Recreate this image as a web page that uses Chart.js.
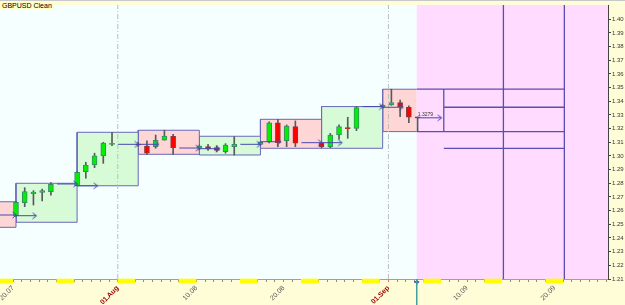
<!DOCTYPE html>
<html>
<head>
<meta charset="utf-8">
<script src="https://cdn.jsdelivr.net/npm/chart.js@4.4.0/dist/chart.umd.min.js"></script>
<style>
  body { margin: 0; background: #fffdd8; }
  #wrap { position: relative; width: 625px; height: 305px; }
  #titulo { position: absolute; left: 0; top: 2px; font: 7px "Liberation Sans", Arial, sans-serif; line-height: 7px; background: #ffffc8; padding: 0 2px; color: #000; }
</style>
</head>
<body>
<div id="wrap">
  <canvas id="chart" width="625" height="305"></canvas>
  <div id="titulo">GBPUSD Clean</div>
</div>
<script>
// dias contados a partir de 20.07 (segunda-feira)
const dias = [0, 1, 2, 3, 4, 7, 8, 9, 10, 11, 14, 15, 16, 17, 18, 21, 22, 23, 24, 25,
  28, 29, 30, 31, 32, 35, 36, 37, 38, 39, 42, 43, 44, 45, 46];
const abertura = [1.2563, 1.2658, 1.2724, 1.2733, 1.2739, 1.2782, 1.2885, 1.2934, 1.3000, 1.3084,
  1.3085, 1.3073, 1.3068, 1.3115, 1.3144, 1.3056, 1.3068, 1.3061, 1.3031, 1.3068,
  1.3085, 1.3104, 1.3243, 1.3112, 1.3214, 1.3093, 1.3068, 1.3153, 1.3205, 1.3202,
  1.3356, 1.3373, 1.3390, 1.3356, 1.3283];
const maxima = [1.2668, 1.2768, 1.2746, 1.2758, 1.2805, 1.2885, 1.2954, 1.3020, 1.3100, 1.3173,
  1.3100, 1.3110, 1.3153, 1.3188, 1.3158, 1.3080, 1.3085, 1.3075, 1.3090, 1.3141,
  1.3105, 1.3250, 1.3268, 1.3227, 1.3256, 1.3100, 1.3165, 1.3227, 1.3283, 1.3361,
  1.3375, 1.3488, 1.3409, 1.3366, 1.3285];
const minima = [1.2558, 1.2629, 1.2641, 1.2671, 1.2714, 1.2780, 1.2837, 1.2914, 1.2946, 1.3075,
  1.3070, 1.3012, 1.3056, 1.3115, 1.3012, 1.3045, 1.3040, 1.3030, 1.3020, 1.3007,
  1.3080, 1.3095, 1.3068, 1.3068, 1.3068, 1.3060, 1.3060, 1.3122, 1.3129, 1.3185,
  1.3350, 1.3370, 1.3287, 1.3243, 1.3178];
const fechamento = [1.2661, 1.2739, 1.2736, 1.2746, 1.2793, 1.2881, 1.2934, 1.3000, 1.3095, 1.3092,
  1.3080, 1.3020, 1.3115, 1.3146, 1.3061, 1.3073, 1.3051, 1.3041, 1.3080, 1.3085,
  1.3100, 1.3243, 1.3097, 1.3219, 1.3093, 1.3068, 1.3153, 1.3214, 1.3200, 1.3353,
  1.3371, 1.3390, 1.3361, 1.3283, 1.3279];

// caixas semanais
const semanaInicio = [-7, 0, 7, 14, 21, 28, 35, 42];
const semanaMax = [1.2665, 1.2800, 1.3173, 1.3188, 1.3144, 1.3268, 1.3361, 1.3488];
const semanaMin = [1.2478, 1.2515, 1.2782, 1.3012, 1.3007, 1.3056, 1.3056, 1.3178];
const semanaAbre = [1.2600, 1.2563, 1.2782, 1.3085, 1.3053, 1.3104, 1.3097, 1.3356];
const semanaFecha = [1.2568, 1.2795, 1.3085, 1.3058, 1.3085, 1.3097, 1.3361, 1.3279];

const agora = 46.24;             // posição do "agora"
const projecaoDias = [56.17, 63.15];
const fimDeSemana = [-2, 5, 12, 19, 26, 33, 40, 47, 54, 61];
const meses = [12, 43];

const tickDias = [0, 12, 21, 31, 43, 52, 62];
const tickTextos = ["20.07", "01.Aug", "10.08", "20.08", "01.Sep", "10.09", "20.09"];
const yTicks = [1.21, 1.22, 1.23, 1.24, 1.25, 1.26, 1.27, 1.28, 1.29, 1.30,
  1.31, 1.32, 1.33, 1.34, 1.35, 1.36, 1.37, 1.38, 1.39, 1.40];

const yMin = 1.21, yMax = 1.4104;
const meio = 0.34; // centro da vela dentro do dia

const seta = document.createElement('canvas');
seta.width = 10; seta.height = 8;
const sc = seta.getContext('2d');
sc.strokeStyle = '#4848b0';
sc.lineWidth = 1;
sc.beginPath(); sc.moveTo(1.5, 1); sc.lineTo(5.5, 4); sc.lineTo(1.5, 7); sc.stroke();

Chart.defaults.font.family = '"Liberation Sans", Arial, sans-serif';

// caixas
const caixas = semanaInicio.map((s, i) => {
  const ultima = i === semanaInicio.length - 1;
  const x0 = s + meio;
  const x1 = ultima ? agora : s + meio + 7;
  const pts = [
    {x: x1, y: semanaMax[i]}, {x: x0, y: semanaMax[i]},
    {x: x0, y: semanaMin[i]}, {x: x1, y: semanaMin[i]}
  ];
  if (!ultima) pts.push({x: x1, y: semanaMax[i]});
  return {
    type: 'line',
    order: 20,
    data: pts,
    borderColor: '#6a66bb',
    borderWidth: 1,
    backgroundColor: semanaFecha[i] >= semanaAbre[i] ? '#d6fbd6' : '#ffd6d6',
    fill: 'shape',
    pointRadius: 0,
  };
});

// setas de abertura / fechamento
const setas = [];
semanaInicio.forEach((s, i) => {
  if (i < semanaInicio.length - 1) {
    setas.push({x: s + 4 + meio + 0.7, y: semanaFecha[i]}, {x: s + 7 + meio, y: semanaFecha[i]}, {x: s + 7 + meio, y: null});
  }
  if (i > 0) {
    setas.push({x: s + meio, y: semanaAbre[i]}, {x: s + meio + 2.3, y: semanaAbre[i]}, {x: s + meio + 2.3, y: null});
  }
});
const ultimo = fechamento[fechamento.length - 1];
setas.push({x: agora, y: ultimo}, {x: agora + 2.8, y: ultimo});

// linhas da projeção
const u = semanaInicio.length - 1;
const fimCaixa = semanaInicio[u] + meio + 7;
const fimProj = projecaoDias[1];
const projecao = [
  {x: agora, y: semanaMax[u]}, {x: fimProj, y: semanaMax[u]}, {x: fimProj, y: null},
  {x: agora, y: semanaMin[u]}, {x: fimProj, y: semanaMin[u]}, {x: fimProj, y: null},
  {x: fimCaixa, y: semanaMin[u]}, {x: fimCaixa, y: semanaMax[u]}, {x: fimCaixa, y: null},
  {x: fimCaixa, y: semanaAbre[u]}, {x: fimProj, y: semanaAbre[u]}, {x: fimProj, y: null},
  {x: fimCaixa, y: semanaMin[u - 1]}, {x: fimProj, y: semanaMin[u - 1]}, {x: fimProj, y: null},
];
projecaoDias.forEach(d => projecao.push({x: d, y: yMin}, {x: d, y: yMax}, {x: d, y: null}));

const divisores = [];
meses.forEach(d => divisores.push({x: d, y: yMin}, {x: d, y: yMax}, {x: d, y: null}));

const sobe = dias.map((d, i) => fechamento[i] >= abertura[i]);

const fundo = {
  id: 'fundo',
  beforeDraw(chart) {
    const {ctx, chartArea: a} = chart;
    ctx.save();
    ctx.fillStyle = '#fffdd8';
    ctx.fillRect(0, 0, chart.width, chart.height);
    ctx.fillStyle = '#f6ffff';
    ctx.fillRect(a.left, a.top, a.right - a.left, a.bottom - a.top);
    ctx.fillStyle = '#c8c8c8';
    ctx.fillRect(0, 0, chart.width, 1);
    ctx.restore();
  },
  afterDatasetsDraw(chart) {
    const {ctx} = chart;
    const x = chart.scales.x.getPixelForValue(agora) + 1;
    const y = chart.scales.y.getPixelForValue(ultimo) - 2;
    ctx.save();
    ctx.font = '5px "Liberation Sans", Arial';
    ctx.fillStyle = '#333';
    ctx.fillText(ultimo.toFixed(4), x, y);
    ctx.restore();
  }
};

const ctx = document.getElementById('chart').getContext('2d');
new Chart(ctx, {
  type: 'bar',
  data: {
    datasets: [
      ...caixas,
      {
        type: 'line', order: 15,
        data: [{x: agora, y: yMin}, {x: 80, y: yMin}, {x: 80, y: yMax}, {x: agora, y: yMax}],
        backgroundColor: '#ffdcff', borderWidth: 0, fill: 'shape', pointRadius: 0,
      },
      {
        type: 'line', order: 12,
        data: divisores,
        borderColor: '#bdbdbd', borderWidth: 1, borderDash: [5, 2, 1, 2], pointRadius: 0,
      },
      {
        type: 'line', order: 10,
        data: projecao,
        borderColor: '#5a4fb0', borderWidth: 1.3, pointRadius: 0,
      },
      {
        type: 'bar', order: 3, grouped: false,
        data: dias.map((d, i) => ({x: d + meio, y: [minima[i], maxima[i]]})),
        backgroundColor: '#5a5a5a', barThickness: 1,
      },
      {
        type: 'bar', order: 2, grouped: false,
        data: dias.map((d, i) => ({x: d + meio, y: [abertura[i], fechamento[i]]})),
        backgroundColor: sobe.map(s => s ? '#00f000' : '#ff0000'),
        borderColor: sobe.map(s => s ? '#3a8a6a' : '#8a3a3a'),
        borderWidth: 1, borderSkipped: false, barThickness: 5, minBarLength: 1,
      },
      {
        type: 'line', order: 1,
        data: setas,
        borderColor: '#4848b0', borderWidth: 1,
        pointStyle: seta,
        pointRadius: c => (c.dataIndex % 3 === 1 || c.dataIndex === setas.length - 1) ? 3 : 0,
      },
      {
        type: 'bar', order: 0, grouped: false,
        data: fimDeSemana.map(d => ({x: d + 1, y: [1.2071, yMin]})),
        backgroundColor: '#ffff00', barThickness: 17,
        clip: {left: 0, top: 0, right: 0, bottom: 30},
      },
      {
        type: 'line', order: 0,
        data: [{x: agora, y: yMin}, {x: agora, y: 1.19}],
        borderColor: '#40a0a0', borderWidth: 1, pointRadius: 0,
        clip: {left: 0, top: 0, right: 0, bottom: 30},
      },
      {
        type: 'line', order: 0,
        data: [{x: agora, y: 1.2078}],
        borderColor: '#2030e0', pointStyle: 'cross', pointRadius: 2.5, pointBorderWidth: 1.5,
        clip: {left: 0, top: 0, right: 0, bottom: 30},
      },
    ]
  },
  options: {
    responsive: false,
    animation: false,
    layout: { autoPadding: false, padding: { top: 5, left: 0, right: 0, bottom: 0 } },
    plugins: { legend: { display: false }, tooltip: { enabled: false } },
    scales: {
      x: {
        type: 'linear',
        offset: false,
        min: -1.49,
        max: 68.15,
        afterBuildTicks: scale => {
          const t = [];
          for (let d = -1; d <= 68; d++) t.push({value: d});
          scale.ticks = t;
        },
        afterFit: scale => {
          scale.height = 26;
          scale.paddingLeft = 0;
          scale.paddingRight = 0;
        },
        grid: {
          offset: false,
          drawOnChartArea: false,
          tickLength: 3,
          color: c => (c.tick && tickDias.includes(c.tick.value)) ? '#e07070' : '#8a8a8a',
        },
        border: { color: '#a0a0a0' },
        ticks: {
          autoSkip: false,
          minRotation: 45,
          maxRotation: 45,
          padding: 2,
          font: c => ({ size: 7, weight: (c.tick && meses.includes(c.tick.value)) ? 'bold' : 'normal' }),
          color: c => (c.tick && meses.includes(c.tick.value)) ? '#990000' : '#555',
          callback: v => {
            const i = tickDias.indexOf(v);
            return i >= 0 ? tickTextos[i] : '';
          }
        }
      },
      y: {
        type: 'linear',
        position: 'right',
        min: yMin,
        max: yMax,
        afterBuildTicks: scale => { scale.ticks = yTicks.map(v => ({value: v})); },
        afterFit: scale => {
          scale.width = 17;
          scale.paddingTop = 0;
          scale.paddingBottom = 0;
        },
        grid: { drawOnChartArea: false, tickLength: 3, color: '#444' },
        border: { color: '#444' },
        ticks: {
          padding: 1,
          font: { size: 6 },
          color: '#333',
          callback: v => v.toFixed(2)
        }
      }
    }
  },
  plugins: [fundo]
});
</script>
</body>
</html>
